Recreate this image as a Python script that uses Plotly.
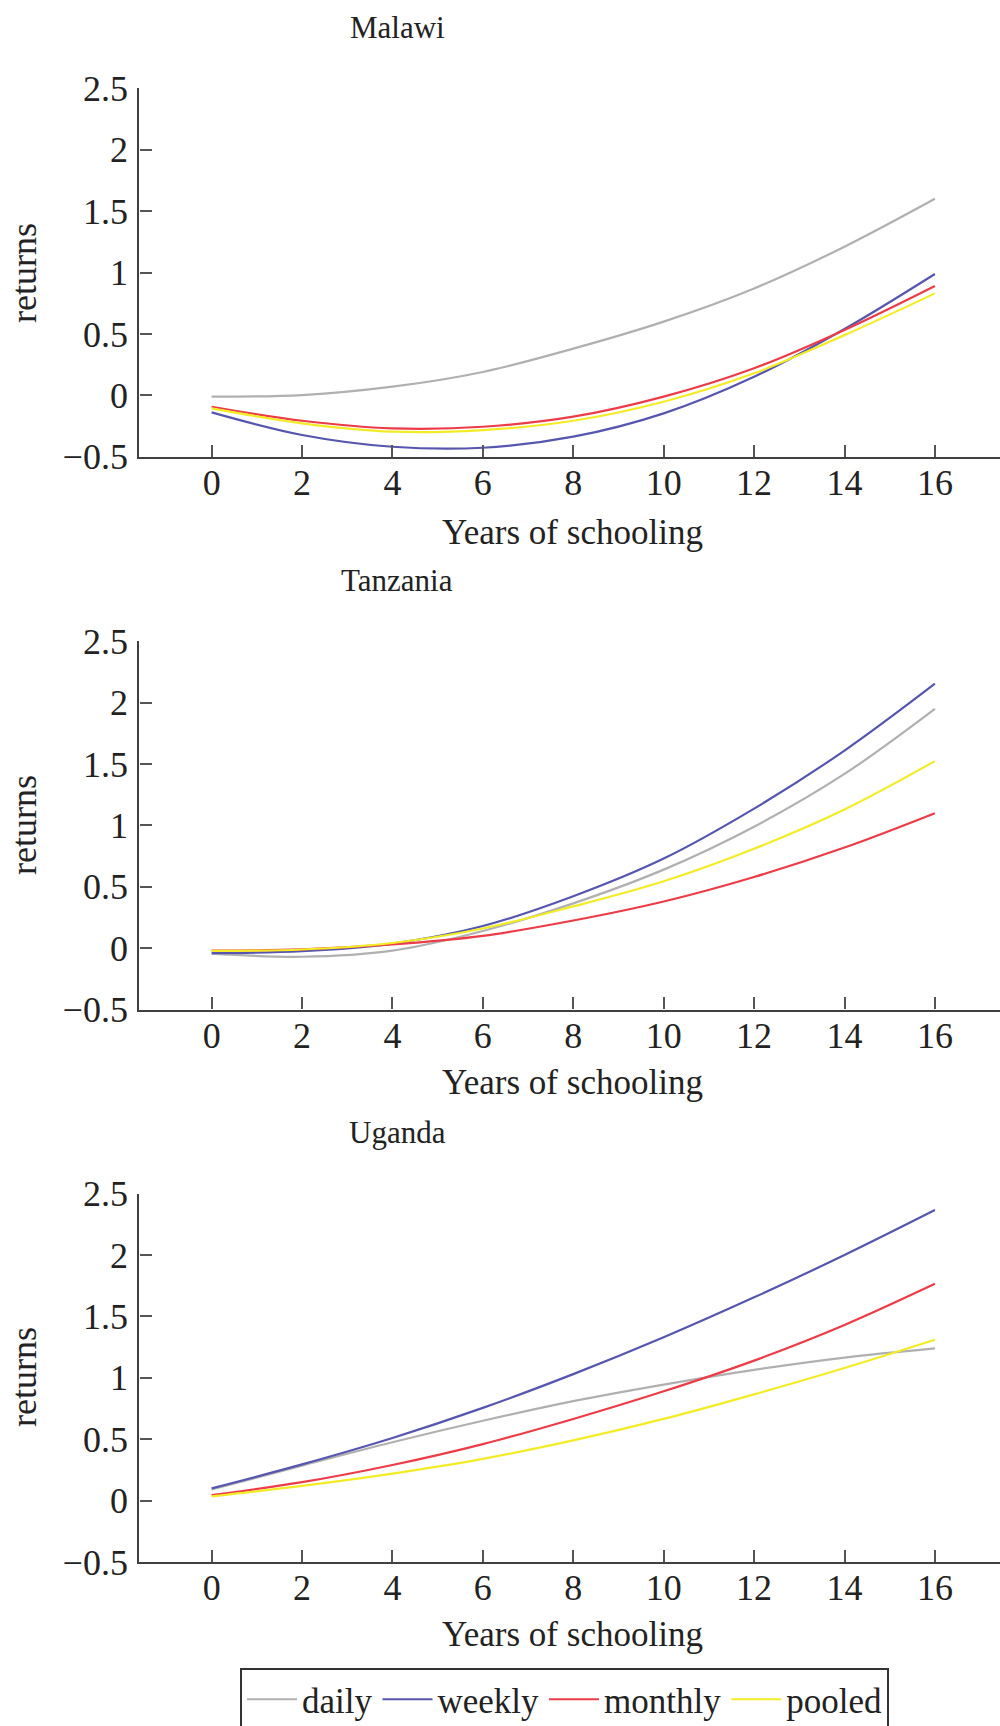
import plotly.graph_objects as go

# ---------------- data ----------------
years = [0, 2, 4, 6, 8, 10, 12, 14, 16]

countries = ["Malawi", "Tanzania", "Uganda"]
series_names = ["daily", "weekly", "monthly", "pooled"]

malawi_daily = [-0.011, 0.002, 0.07, 0.19, 0.38, 0.60, 0.87, 1.21, 1.60]
malawi_weekly = [-0.139, -0.323, -0.419, -0.427, -0.337, -0.147, 0.151, 0.54, 0.988]
malawi_monthly = [-0.093, -0.207, -0.269, -0.256, -0.174, -0.011, 0.22, 0.532, 0.89]
malawi_pooled = [-0.106, -0.228, -0.296, -0.283, -0.207, -0.052, 0.179, 0.49, 0.83]

tanzania_daily = [-0.045, -0.07, -0.02, 0.14, 0.365, 0.64, 0.99, 1.42, 1.95]
tanzania_weekly = [-0.04, -0.025, 0.037, 0.18, 0.423, 0.73, 1.137, 1.61, 2.155]
tanzania_monthly = [-0.02, -0.01, 0.03, 0.10, 0.225, 0.38, 0.58, 0.82, 1.10]
tanzania_pooled = [-0.023, -0.011, 0.042, 0.16, 0.34, 0.545, 0.81, 1.13, 1.524]

uganda_daily = [0.09, 0.285, 0.475, 0.65, 0.81, 0.945, 1.065, 1.165, 1.24]
uganda_weekly = [0.10, 0.295, 0.51, 0.755, 1.03, 1.33, 1.655, 2.0, 2.366]
uganda_monthly = [0.045, 0.15, 0.29, 0.46, 0.665, 0.89, 1.14, 1.43, 1.765]
uganda_pooled = [0.035, 0.12, 0.22, 0.34, 0.49, 0.665, 0.865, 1.08, 1.31]

y_tickvals = [-0.5, 0, 0.5, 1, 1.5, 2, 2.5]
y_ticktext = ["\u22120.5", "0", "0.5", "1", "1.5", "2", "2.5"]
x_tickvals = [0, 2, 4, 6, 8, 10, 12, 14, 16]

x_label = "Years of schooling"
y_label = "returns"

# ---------------- styling ----------------
colors = {"daily": "#b0b0b0", "weekly": "#5656ae", "monthly": "#ec3c48", "pooled": "#f2ec26"}
FONT = "Liberation Serif, Times New Roman, serif"
W, H = 1000, 1726

panel_data = [
    [malawi_daily, malawi_weekly, malawi_monthly, malawi_pooled],
    [tanzania_daily, tanzania_weekly, tanzania_monthly, tanzania_pooled],
    [uganda_daily, uganda_weekly, uganda_monthly, uganda_pooled],
]

# pixel geometry of each panel (top of axis at 2.5, bottom at -0.5)
panel_top_px = [88.3, 641.4, 1193.6]
panel_bot_px = [456.7, 1009.5, 1562.0]
title_px = [27, 580, 1132]
xlabel_px = [532, 1082, 1634]
ylabel_px = [273, 825, 1377]

fig = go.Figure()

for p in range(3):
    xa = "x" if p == 0 else f"x{p+1}"
    ya = "y" if p == 0 else f"y{p+1}"
    for s, name in enumerate(series_names):
        fig.add_trace(go.Scatter(
            x=years, y=panel_data[p][s], mode="lines", name=name,
            line=dict(color=colors[name], width=2.2, shape="spline", smoothing=1.0),
            xaxis=xa, yaxis=ya, showlegend=(p == 2), hoverinfo="skip",
        ))

axis_common = dict(
    showgrid=False, zeroline=False, showline=True, linecolor="#404040", linewidth=2.4,
    ticks="inside", ticklen=12, tickwidth=1.5, tickcolor="#555555",
    tickfont=dict(family=FONT, size=36, color="#222222"),
)

layout = dict(
    width=W, height=H, margin=dict(l=0, r=0, t=0, b=0, autoexpand=False),
    paper_bgcolor="white", plot_bgcolor="white",
    font=dict(family=FONT, color="#222222"),
    showlegend=True,
    legend=dict(
        orientation="h", x=0.24, xanchor="left", y=1 - 1668 / H, yanchor="top",
        bordercolor="#333333", borderwidth=2, bgcolor="white",
        font=dict(family=FONT, size=35, color="#222222"),
        itemwidth=50, tracegroupgap=0,
    ),
)

annotations = []
for p in range(3):
    suffix = "" if p == 0 else str(p + 1)
    y0 = 1 - panel_bot_px[p] / H
    y1 = 1 - panel_top_px[p] / H
    layout["xaxis" + suffix] = dict(
        axis_common, domain=[0.1393, 1.0], range=[-1.6, 17.44],
        tickvals=x_tickvals, anchor="y" + suffix, ticklabelstandoff=-7,
    )
    layout["yaxis" + suffix] = dict(
        axis_common, domain=[y0, y1], range=[-0.5, 2.5],
        tickvals=y_tickvals, ticktext=y_ticktext, anchor="x" + suffix,
        ticklabelstandoff=2,
    )
    annotations.append(dict(
        text=countries[p], xref="paper", yref="paper", x=397 / W, y=1 - title_px[p] / H,
        xanchor="center", yanchor="middle", showarrow=False,
        font=dict(family=FONT, size=31, color="#222222"),
    ))
    annotations.append(dict(
        text=x_label, xref="paper", yref="paper", x=572 / W, y=1 - xlabel_px[p] / H,
        xanchor="center", yanchor="middle", showarrow=False,
        font=dict(family=FONT, size=35, color="#222222"),
    ))
    annotations.append(dict(
        text=y_label, xref="paper", yref="paper", x=24 / W, y=1 - ylabel_px[p] / H,
        xanchor="center", yanchor="middle", showarrow=False, textangle=-90,
        font=dict(family=FONT, size=36, color="#222222"),
    ))

layout["annotations"] = annotations
fig.update_layout(**layout)

fig.write_html("out.html")
